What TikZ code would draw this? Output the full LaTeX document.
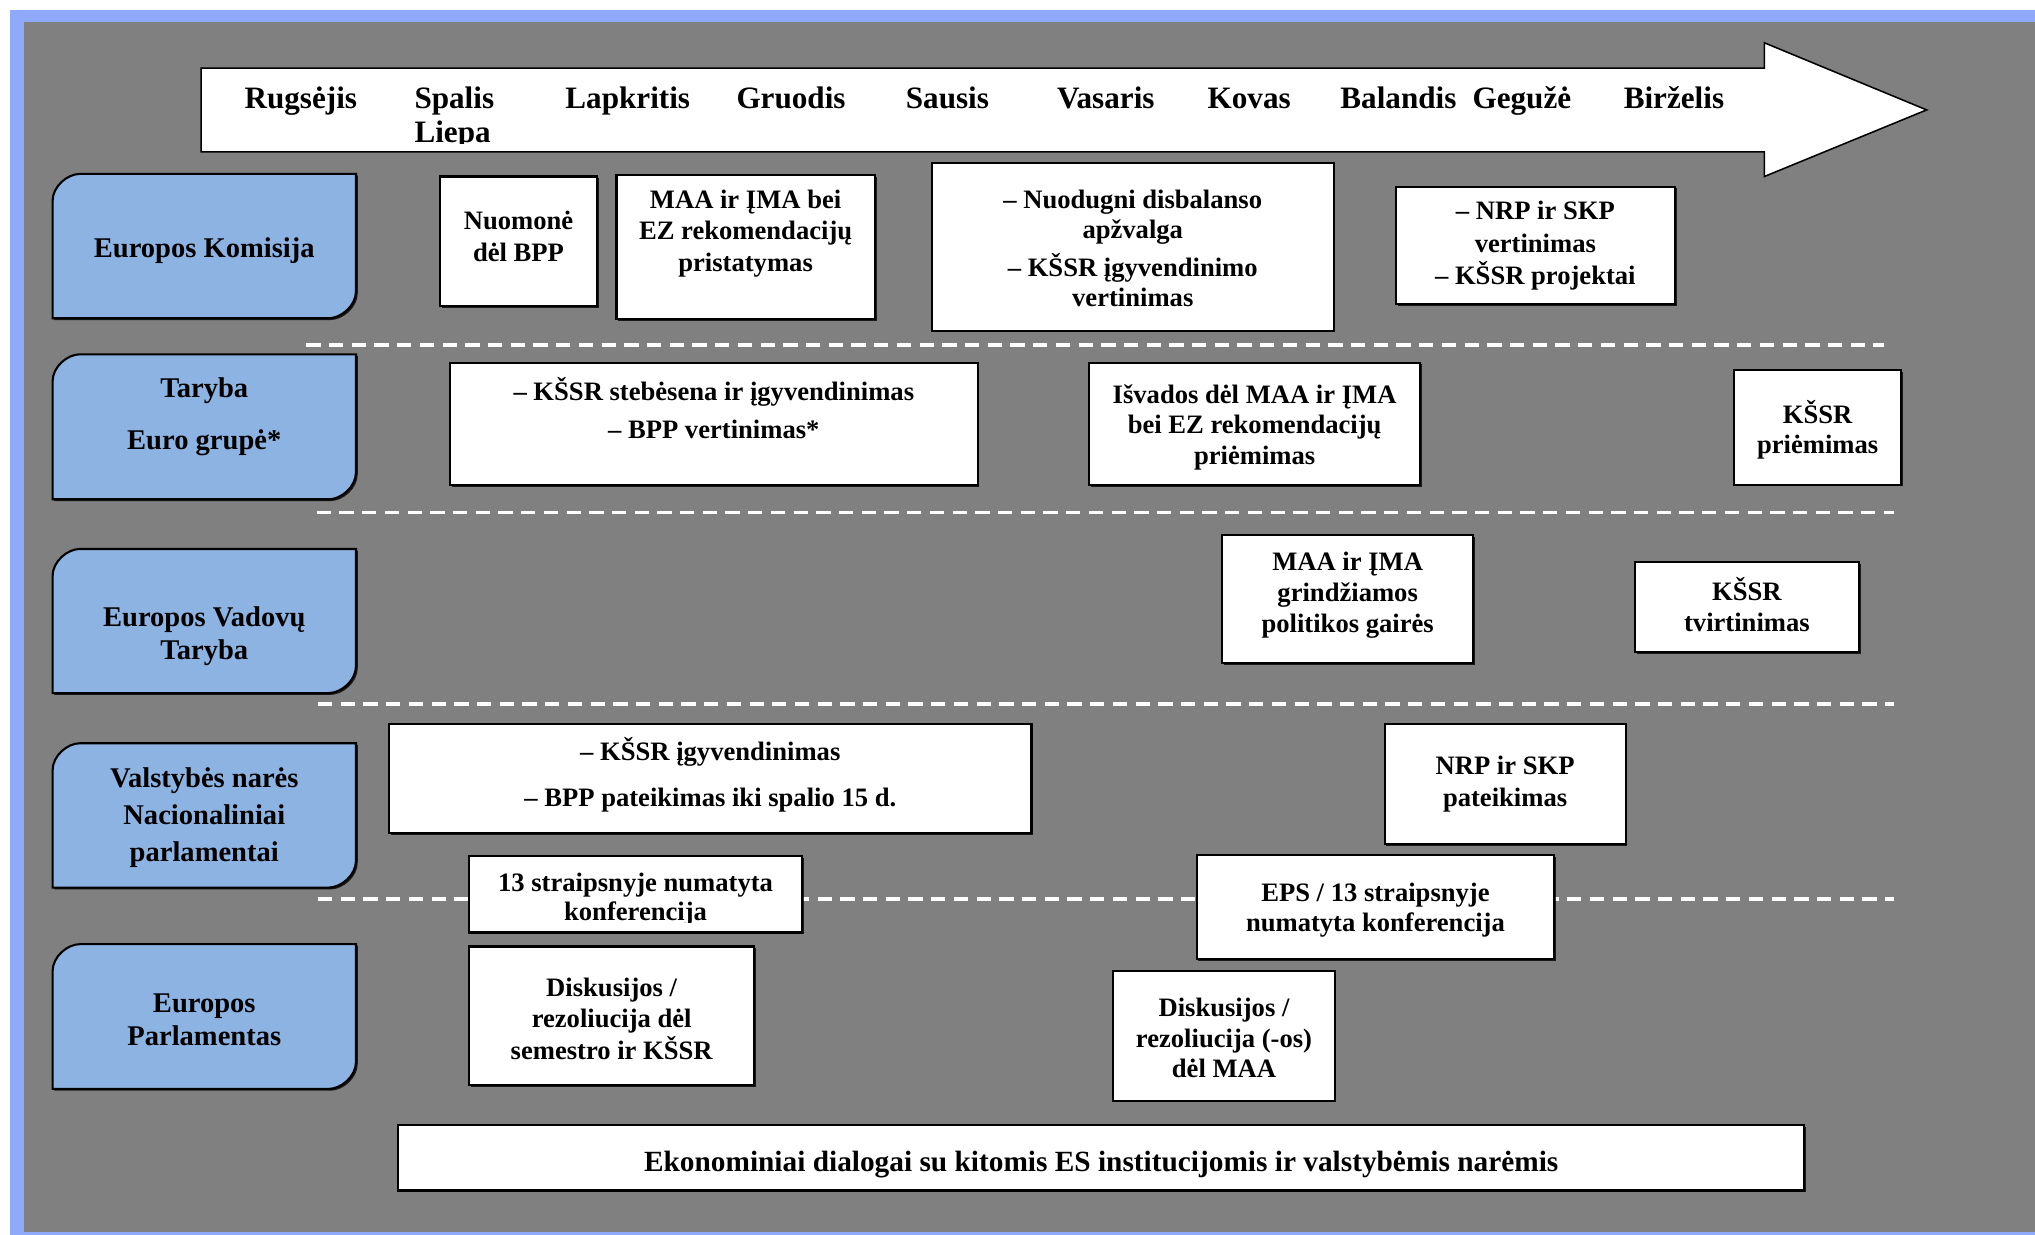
\documentclass[tikz,border=0pt]{standalone}
\usepackage{fontspec}
\setmainfont{Liberation Serif}
\usetikzlibrary{fit,shadows}
\definecolor{frameblue}{RGB}{143,170,250}
\definecolor{lblblue}{RGB}{141,179,226}
\definecolor{bggray}{RGB}{128,128,128}
\newcommand{\wb}[5]{\node[wbox, fit={(#2,#3) (#4,#5)}] (#1) {};}
\newcommand{\rlab}[3]{%
  \draw[lblbox] (40.5,{#2+21}) .. controls (40.5,{#2+9.4}) and (52.1,#2) .. (61.5,#2)
    -- (274.3,#2) -- (274.3,{#3-21}) .. controls (274.3,{#3-9.4}) and (262.7,#3) .. (253.3,#3)
    -- (40.5,#3) -- cycle;
  \coordinate (#1) at (157.4,{(#2+#3)/2});}
\begin{document}
\begin{tikzpicture}[x=0.5pt,y=-0.5pt,
  wbox/.style={draw=black, fill=white, line width=0.8pt, inner sep=0pt,
    drop shadow={shadow xshift=0.7pt, shadow yshift=-0.7pt, opacity=0.8, fill=black}},
  lblbox/.style={draw=black, fill=lblblue, line width=0.8pt,
    drop shadow={shadow xshift=0.7pt, shadow yshift=-0.7pt, opacity=0.8, fill=black}},
  btxt/.style={font=\bfseries\fontsize{10.25}{12}\selectfont, align=center, inner sep=0pt},
  ltxt/.style={font=\bfseries\fontsize{11}{12.8}\selectfont, align=center, inner sep=0pt},
  mtxt/.style={font=\bfseries\fontsize{12}{13}\selectfont, inner sep=0pt, anchor=base},
  arrowbox/.style={draw=black, fill=white, line width=0.6pt},
  sep/.style={draw=white, line width=1.3pt, dash pattern=on 5.5pt off 3.25pt}
]
\useasboundingbox (0,0) rectangle (1568,951.5);
\fill[white] (0,0) rectangle (1568,951.5);
\fill[frameblue] (7.5,7.5) rectangle (1568,951.5);
\fill[bggray] (18.5,17) rectangle (1568,949.5);

% timeline arrow
\draw[arrowbox] (155,52.5) -- (1359.5,52.5) -- (1359.5,33) -- (1484.5,84.7)
  -- (1359.5,136) -- (1359.5,117) -- (155,117) -- cycle;
\node[mtxt] (m1) at (231.8,83.5) {Rugsėjis};
\node[mtxt, anchor=base west] (m2) at (319,83.5) {Spalis};
\begin{scope}
  \clip (300,90) rectangle (420,110.5);
  \node[mtxt, anchor=base west] (m2b) at (319,109.5) {Liepa};
\end{scope}
\node[mtxt] (m3) at (483.7,83.5) {Lapkritis};
\node[mtxt] (m4) at (609.5,83.5) {Gruodis};
\node[mtxt] (m5) at (730,83.5) {Sausis};
\node[mtxt] (m6) at (852,83.5) {Vasaris};
\node[mtxt] (m7) at (962.5,83.5) {Kovas};
\node[mtxt] (m8) at (1077.5,83.5) {Balandis};
\node[mtxt] (m9) at (1172.6,83.5) {Gegužė};
\node[mtxt] (m10) at (1289.8,83.5) {Birželis};

% separators
\draw[sep] (236,265.8) -- (1451.8,265.8);
\draw[sep] (244,395) -- (1459.5,395);
\draw[sep] (245,542.4) -- (1459.5,542.4);
\draw[sep] (245,692.6) -- (1459.5,692.6);

% row labels
\rlab{ek}{134}{245.2}
\node[ltxt] (ekt) at (157.4,193) {Europos Komisija};
\rlab{tar}{273}{384.7}
\node[ltxt, font=\bfseries\fontsize{11}{19.9}\selectfont] (tart) at (157.4,321) {Taryba\\Euro grupė*};
\rlab{evt}{423}{534}
\node[ltxt] (evtt) at (157.4,490.2) {Europos Vadovų\\Taryba};
\rlab{vn}{572.7}{683.9}
\node[ltxt, font=\bfseries\fontsize{11}{14.3}\selectfont] (vnt) at (157.4,629.8) {Valstybės narės\\Nacionaliniai\\parlamentai};
\rlab{ep}{727.5}{839}
\node[ltxt] (ept) at (157.4,786) {Europos\\Parlamentas};

% row 1
\wb{nuo}{339}{136}{460}{235.7}
\node[btxt, font=\bfseries\fontsize{10.25}{12.25}\selectfont] (nuot) at (399.5,182.3) {Nuomonė\\dėl BPP};
\wb{maa}{475}{134.8}{674}{246}
\node[btxt] (maat) at (574.5,180) {MAA ir ĮMA bei\\EZ rekomendacijų\\pristatymas};
\wb{nud}{718}{125.3}{1027.6}{254.7}
\node[btxt, font=\bfseries\fontsize{10.25}{11.5}\selectfont] (nudt) at (872.8,191.5) {– Nuodugni disbalanso\\apžvalga\\[3.3pt]– KŠSR įgyvendinimo\\vertinimas};
\wb{nrpv}{1075.6}{143.8}{1290.9}{234.2}
\node[btxt, font=\bfseries\fontsize{10.25}{12.5}\selectfont] (nrpvt) at (1183,189.5) {– NRP ir SKP\\vertinimas\\– KŠSR projektai};

% row 2
\wb{steb}{347}{279.4}{753.3}{373.9}
\node[btxt, font=\bfseries\fontsize{10.25}{14.8}\selectfont] (stebt) at (550,314.5) {– KŠSR stebėsena ir įgyvendinimas\\– BPP vertinimas*};
\wb{isv}{839}{279.4}{1094.4}{373.9}
\node[btxt, font=\bfseries\fontsize{10.25}{11.75}\selectfont] (isvt) at (966.7,329.3) {Išvados dėl MAA ir ĮMA\\bei EZ rekomendacijų\\priėmimas};
\wb{prie}{1336.4}{285}{1464.6}{373.4}
\node[btxt, font=\bfseries\fontsize{10.25}{11.6}\selectfont] (priet) at (1400.5,331) {KŠSR\\priėmimas};

% row 3
\wb{gair}{941.8}{412.2}{1135}{511}
\node[btxt, font=\bfseries\fontsize{10.25}{11.9}\selectfont] (gairt) at (1038.4,458.5) {MAA ir ĮMA\\grindžiamos\\politikos gairės};
\wb{tvir}{1259.6}{433.2}{1432.5}{502.6}
\node[btxt, font=\bfseries\fontsize{10.25}{11.9}\selectfont] (tvirt) at (1346,465.8) {KŠSR\\tvirtinimas};

% row 4
\wb{igyv}{299.8}{557.8}{794.8}{642}
\node[btxt, font=\bfseries\fontsize{10.25}{18}\selectfont] (igyvt) at (547.3,597) {– KŠSR įgyvendinimas\\– BPP pateikimas iki spalio 15 d.};
\wb{nrpp}{1066.9}{557.8}{1252.5}{650.2}
\node[btxt, font=\bfseries\fontsize{10.25}{12.5}\selectfont] (nrppt) at (1159.7,604) {NRP ir SKP\\pateikimas};
\wb{konf}{361.2}{659.5}{618.2}{718.5}
\begin{scope}
  \clip (361.2,659.5) rectangle (618.2,711);
  \node[btxt, font=\bfseries\fontsize{10.25}{11.15}\selectfont] (konft) at (489.7,693.5) {13 straipsnyje numatyta\\konferencija};
\end{scope}
\wb{eps}{922}{659}{1197.6}{739}
\node[btxt, font=\bfseries\fontsize{10.25}{11.6}\selectfont] (epst) at (1059.8,701.5) {EPS / 13 straipsnyje\\numatyta konferencija};

% row 5
\wb{dis1}{361.2}{729.3}{581.3}{835.9}
\node[btxt, font=\bfseries\fontsize{10.25}{12.2}\selectfont] (dis1t) at (471.3,785) {Diskusijos /\\rezoliucija dėl\\semestro ir KŠSR};
\wb{dis2}{857.9}{748}{1028.3}{848}
\node[btxt, font=\bfseries\fontsize{10.25}{11.85}\selectfont] (dis2t) at (943.1,799.8) {Diskusijos /\\rezoliucija (-os)\\dėl MAA};

% bottom
\wb{eko}{307}{866.7}{1390}{917.3}
\node[btxt, font=\bfseries\fontsize{11.3}{13}\selectfont] (ekot) at (848.5,897) {Ekonominiai dialogai su kitomis ES institucijomis ir valstybėmis narėmis};
\end{tikzpicture}
\end{document}
